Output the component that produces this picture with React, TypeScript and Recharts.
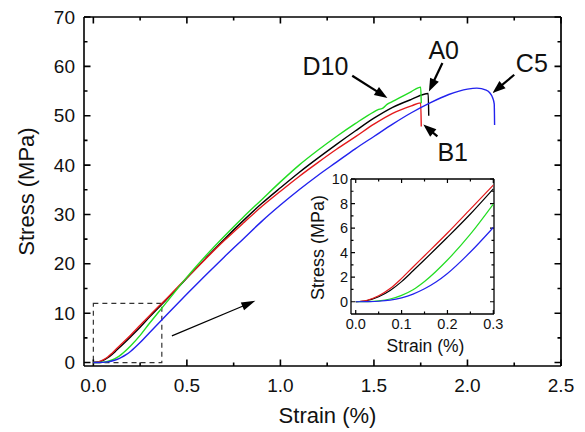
import { LineChart, Line, XAxis, YAxis, ReferenceArea, ReferenceLine, ReferenceDot } from 'recharts'

// stress-strain curves (strain in %, stress in MPa)
const strainA0 = [0, 0.025, 0.05, 0.075, 0.1, 0.125, 0.15, 0.2, 0.25, 0.3, 0.4, 0.5, 0.6, 0.7, 0.8, 0.9, 1.0, 1.1, 1.2, 1.3, 1.4, 1.5, 1.6, 1.7, 1.79, 1.793]
const stressA0 = [0, 0.1, 0.41, 0.92, 1.64, 2.52, 3.42, 5.25, 7.15, 9.2, 13.1, 17.1, 21.1, 25.0, 28.7, 32.2, 35.4, 38.5, 41.4, 44.2, 46.9, 49.5, 51.7, 53.3, 54.5, 50.0]

const strainB1 = [0, 0.025, 0.05, 0.075, 0.1, 0.125, 0.15, 0.2, 0.25, 0.3, 0.4, 0.5, 0.6, 0.7, 0.8, 0.9, 1.0, 1.1, 1.2, 1.3, 1.4, 1.5, 1.6, 1.7, 1.75, 1.753]
const stressB1 = [0, 0.12, 0.48, 1.07, 1.9, 2.83, 3.75, 5.6, 7.55, 9.5, 13.3, 17.2, 21.0, 24.7, 28.2, 31.6, 34.7, 37.7, 40.5, 43.2, 45.7, 48.3, 50.5, 52.0, 52.6, 47.8]

const strainD10 = [0, 0.025, 0.05, 0.075, 0.1, 0.125, 0.15, 0.2, 0.25, 0.3, 0.4, 0.5, 0.6, 0.7, 0.8, 0.9, 1.0, 1.1, 1.2, 1.3, 1.4, 1.5, 1.52, 1.55, 1.57, 1.6, 1.7, 1.75, 1.753]
const stressD10 = [0, 0.01, 0.07, 0.22, 0.52, 0.98, 1.65, 3.4, 5.5, 7.95, 12.6, 17.3, 21.6, 25.6, 29.4, 33.0, 36.6, 40.0, 43.0, 45.8, 48.4, 50.8, 51.2, 51.6, 52.3, 52.9, 54.9, 55.8, 52.5]

const strainC5 = [0, 0.025, 0.05, 0.075, 0.1, 0.125, 0.15, 0.175, 0.2, 0.25, 0.3, 0.4, 0.5, 0.6, 0.7, 0.8, 0.9, 1.0, 1.1, 1.2, 1.3, 1.4, 1.5, 1.6, 1.7, 1.8, 1.9, 2.0, 2.05, 2.1, 2.12, 2.135, 2.143, 2.145]
const stressC5 = [0, 0.01, 0.04, 0.13, 0.32, 0.62, 1.05, 1.6, 2.3, 4.05, 6.05, 10.0, 13.9, 17.7, 21.4, 25.0, 28.6, 31.9, 35.0, 37.9, 40.6, 43.3, 45.8, 48.3, 50.6, 52.6, 54.3, 55.4, 55.6, 55.2, 54.6, 53.6, 52.4, 48.1]

// axis ranges and ticks
const mainStrainDomain = [-0.05, 2.5]
const mainStressDomain = [-0.7, 70]
const mainStrainTicks = [0, 0.25, 0.5, 0.75, 1, 1.25, 1.5, 1.75, 2, 2.25, 2.5]
const mainStressTicks = [0, 5, 10, 15, 20, 25, 30, 35, 40, 45, 50, 55, 60, 65, 70]
const insetStrainDomain = [-0.0103, 0.3015]
const insetStressDomain = [-1, 10]
const insetStrainTicks = [0, 0.05, 0.1, 0.15, 0.2, 0.25, 0.3]
const insetStressTicks = [0, 1, 2, 3, 4, 5, 6, 7, 8, 9, 10]

// zoom box drawn on the main plot
const boxStrain = [0, 0.366]
const boxStress = [0, 12]

// sample labels and their arrows (data coordinates)
const labelNames = ['D10', 'A0', 'C5', 'B1']
const labelStrain = [1.241, 1.873, 2.344, 1.921]
const labelStress = [60.1, 63.4, 60.75, 42.7]
const arrowFromStrain = [1.384, 1.866, 2.25, 1.839]
const arrowFromStress = [58.1, 60.7, 58.3, 45.8]
const arrowToStrain = [1.572, 1.794, 2.134, 1.764]
const arrowToStress = [53.6, 54.9, 54.6, 48.2]
const insetArrowStrain = [0.42, 0.866]
const insetArrowStress = [5.4, 12.5]

const zip = (xs: number[], ys: number[]) => xs.map((x, i) => ({ x, y: ys[i] }))

const series = [
  { name: 'A0', color: '#000000', data: zip(strainA0, stressA0) },
  { name: 'B1', color: '#e41a1c', data: zip(strainB1, stressB1) },
  { name: 'D10', color: '#22dd22', data: zip(strainD10, stressD10) },
  { name: 'C5', color: '#2222ee', data: zip(strainC5, stressC5) },
]

const FONT = "'Liberation Sans', Arial, sans-serif"

const isMultiple = (v: number, step: number) => Math.abs(v / step - Math.round(v / step)) < 1e-6

// tick labels only; tick marks are drawn by the reference segments below
function makeLabel(side: 'bottom' | 'left', step: number, size: number, gap: number, fmt: (v: number) => string) {
  return (props: any) => {
    const { x, y, payload } = props
    if (!isMultiple(payload.value, step)) return <g />
    if (side === 'bottom') {
      return (
        <text x={x} y={y + gap} textAnchor="middle" fontSize={size} fontFamily={FONT} fill="#111">
          {fmt(payload.value)}
        </text>
      )
    }
    return (
      <text x={x - gap} y={y} textAnchor="end" dominantBaseline="central" fontSize={size} fontFamily={FONT} fill="#111">
        {fmt(payload.value)}
      </text>
    )
  }
}

// inward tick marks at both ends of a segment spanning the plot
function TickMarks(props: any) {
  const { x1, y1, x2, y2, len, lineWidth } = props
  if ([x1, y1, x2, y2].some((v) => v == null || Number.isNaN(v))) return null
  let d
  if (Math.abs(x1 - x2) < 0.01) {
    const top = Math.min(y1, y2)
    const bottom = Math.max(y1, y2)
    d = `M${x1},${bottom}V${bottom - len}M${x1},${top}V${top + len}`
  } else {
    const left = Math.min(x1, x2)
    const right = Math.max(x1, x2)
    d = `M${left},${y1}H${left + len}M${right},${y1}H${right - len}`
  }
  return <path d={d} stroke="#000" strokeWidth={lineWidth} fill="none" />
}

function Arrow(props: any) {
  const { x1, y1, x2, y2, head = 13, half = 4.5, lineWidth = 2 } = props
  if ([x1, y1, x2, y2].some((v) => v == null || Number.isNaN(v))) return null
  const dx = x2 - x1
  const dy = y2 - y1
  const l = Math.hypot(dx, dy)
  const ux = dx / l
  const uy = dy / l
  const bx = x2 - ux * head
  const by = y2 - uy * head
  return (
    <g>
      <line x1={x1} y1={y1} x2={bx + ux * 2} y2={by + uy * 2} stroke="#000" strokeWidth={lineWidth} />
      <polygon points={`${x2},${y2} ${bx - uy * half},${by + ux * half} ${bx + uy * half},${by - ux * half}`} fill="#000" />
    </g>
  )
}

function frameAndTicks(xTicks: number[], yTicks: number[], xStep: number, yStep: number, xDomain: number[], yDomain: number[], major: number, minor: number, lineWidth: number) {
  return [
    ...xTicks.map((v) => (
      <ReferenceLine
        key={'tx' + v}
        segment={[
          { x: v, y: yDomain[0] },
          { x: v, y: yDomain[1] },
        ]}
        ifOverflow="visible"
        shape={(p: any) => <TickMarks {...p} len={isMultiple(v, xStep) ? major : minor} lineWidth={lineWidth} />}
      />
    )),
    ...yTicks.map((v) => (
      <ReferenceLine
        key={'ty' + v}
        segment={[
          { x: xDomain[0], y: v },
          { x: xDomain[1], y: v },
        ]}
        ifOverflow="visible"
        shape={(p: any) => <TickMarks {...p} len={isMultiple(v, yStep) ? major : minor} lineWidth={lineWidth} />}
      />
    )),
    <ReferenceLine key="frameTop" y={yDomain[1]} stroke="#000" strokeWidth={lineWidth + 0.1} />,
    <ReferenceLine key="frameRight" x={xDomain[1]} stroke="#000" strokeWidth={lineWidth + 0.1} />,
  ]
}

const axisLine = { stroke: '#000', strokeWidth: 1.6 }
const insetAxisLine = { stroke: '#000', strokeWidth: 1.3 }

function MainChart() {
  return (
    <LineChart width={585} height={432} margin={{ top: 17, right: 24, bottom: 6, left: 0 }}>
      <XAxis
        dataKey="x"
        type="number"
        domain={mainStrainDomain}
        ticks={mainStrainTicks}
        interval={0}
        allowDataOverflow
        height={60}
        tickSize={0}
        tickMargin={0}
        tickLine={false}
        axisLine={axisLine}
        tick={makeLabel('bottom', 0.5, 19, 26, (v) => v.toFixed(1))}
        label={(p: any) => (
          <text x={p.viewBox.x + p.viewBox.width / 2 + 5} y={p.viewBox.y + 57} textAnchor="middle" fontSize={22} fontFamily={FONT} fill="#111">
            Strain (%)
          </text>
        )}
      />
      <YAxis
        type="number"
        domain={mainStressDomain}
        ticks={mainStressTicks}
        interval={0}
        allowDataOverflow
        width={84}
        tickSize={0}
        tickMargin={0}
        tickLine={false}
        axisLine={axisLine}
        tick={makeLabel('left', 10, 19, 9, (v) => String(v))}
        label={(p: any) => {
          const cx = p.viewBox.x + 26
          const cy = p.viewBox.y + p.viewBox.height / 2
          return (
            <text x={cx} y={cy} transform={`rotate(-90, ${cx}, ${cy})`} textAnchor="middle" dominantBaseline="central" fontSize={22} fontFamily={FONT} fill="#111">
              Stress (MPa)
            </text>
          )
        }}
      />
      {frameAndTicks(mainStrainTicks, mainStressTicks, 0.5, 10, mainStrainDomain, mainStressDomain, 6.5, 3.5, 1.6)}
      <ReferenceArea
        x1={boxStrain[0]}
        x2={boxStrain[1]}
        y1={boxStress[0]}
        y2={boxStress[1]}
        fill="none"
        fillOpacity={0}
        stroke="#333"
        strokeWidth={1.2}
        strokeDasharray="5 4"
      />
      {series.map((s) => (
        <Line
          key={s.name}
          data={s.data}
          dataKey="y"
          type="monotone"
          stroke={s.color}
          strokeWidth={1.4}
          dot={false}
          isAnimationActive={false}
        />
      ))}
      {labelNames.map((name, i) => (
        <ReferenceLine
          key={'a' + name}
          segment={[
            { x: arrowFromStrain[i], y: arrowFromStress[i] },
            { x: arrowToStrain[i], y: arrowToStress[i] },
          ]}
          ifOverflow="visible"
          shape={(p: any) => <Arrow {...p} head={13} half={4.8} lineWidth={2.2} />}
        />
      ))}
      <ReferenceLine
        segment={[
          { x: insetArrowStrain[0], y: insetArrowStress[0] },
          { x: insetArrowStrain[1], y: insetArrowStress[1] },
        ]}
        ifOverflow="visible"
        shape={(p: any) => <Arrow {...p} head={14} half={4.2} lineWidth={1.2} />}
      />
      {labelNames.map((name, i) => (
        <ReferenceDot
          key={'l' + name}
          x={labelStrain[i]}
          y={labelStress[i]}
          ifOverflow="visible"
          shape={(p: any) => (
            <text x={p.cx} y={p.cy} textAnchor="middle" dominantBaseline="central" fontSize={25} fontFamily={FONT} fill="#111">
              {name}
            </text>
          )}
        />
      ))}
    </LineChart>
  )
}

function InsetChart() {
  const insetSeries = series.map((s) => ({ ...s, data: s.data.filter((d) => d.x <= 0.3) }))
  return (
    <LineChart width={220} height={195} margin={{ top: 14, right: 26, bottom: 6, left: 11 }}>
      <XAxis
        dataKey="x"
        type="number"
        domain={insetStrainDomain}
        ticks={insetStrainTicks}
        interval={0}
        allowDataOverflow
        height={40}
        tickSize={0}
        tickMargin={0}
        tickLine={false}
        axisLine={insetAxisLine}
        tick={makeLabel('bottom', 0.1, 14.5, 14.5, (v) => v.toFixed(1))}
        label={(p: any) => (
          <text x={p.viewBox.x + p.viewBox.width / 2 + 3} y={p.viewBox.y + 37.5} textAnchor="middle" fontSize={17.5} fontFamily={FONT} fill="#111">
            Strain (%)
          </text>
        )}
      />
      <YAxis
        type="number"
        domain={insetStressDomain}
        ticks={insetStressTicks}
        interval={0}
        allowDataOverflow
        width={40}
        tickSize={0}
        tickMargin={0}
        tickLine={false}
        axisLine={insetAxisLine}
        tick={makeLabel('left', 2, 14.5, 3, (v) => String(v))}
        label={(p: any) => {
          const cx = p.viewBox.x + 6.5
          const cy = p.viewBox.y + p.viewBox.height / 2 + 1
          return (
            <text x={cx} y={cy} transform={`rotate(-90, ${cx}, ${cy})`} textAnchor="middle" dominantBaseline="central" fontSize={18} fontFamily={FONT} fill="#111">
              Stress (MPa)
            </text>
          )
        }}
      />
      {frameAndTicks(insetStrainTicks, insetStressTicks, 0.1, 2, insetStrainDomain, insetStressDomain, 4, 2.5, 1.2)}
      {insetSeries.map((s) => (
        <Line
          key={s.name}
          data={s.data}
          dataKey="y"
          type="monotone"
          stroke={s.color}
          strokeWidth={1.2}
          dot={false}
          isAnimationActive={false}
        />
      ))}
    </LineChart>
  )
}

export default function App() {
  return (
    <div style={{ position: 'absolute', left: 0, top: 0, width: 585, height: 432, background: '#fff' }}>
      <div style={{ position: 'absolute', left: 0, top: 0 }}>
        <MainChart />
      </div>
      <div style={{ position: 'absolute', left: 300, top: 165 }}>
        <InsetChart />
      </div>
    </div>
  )
}
